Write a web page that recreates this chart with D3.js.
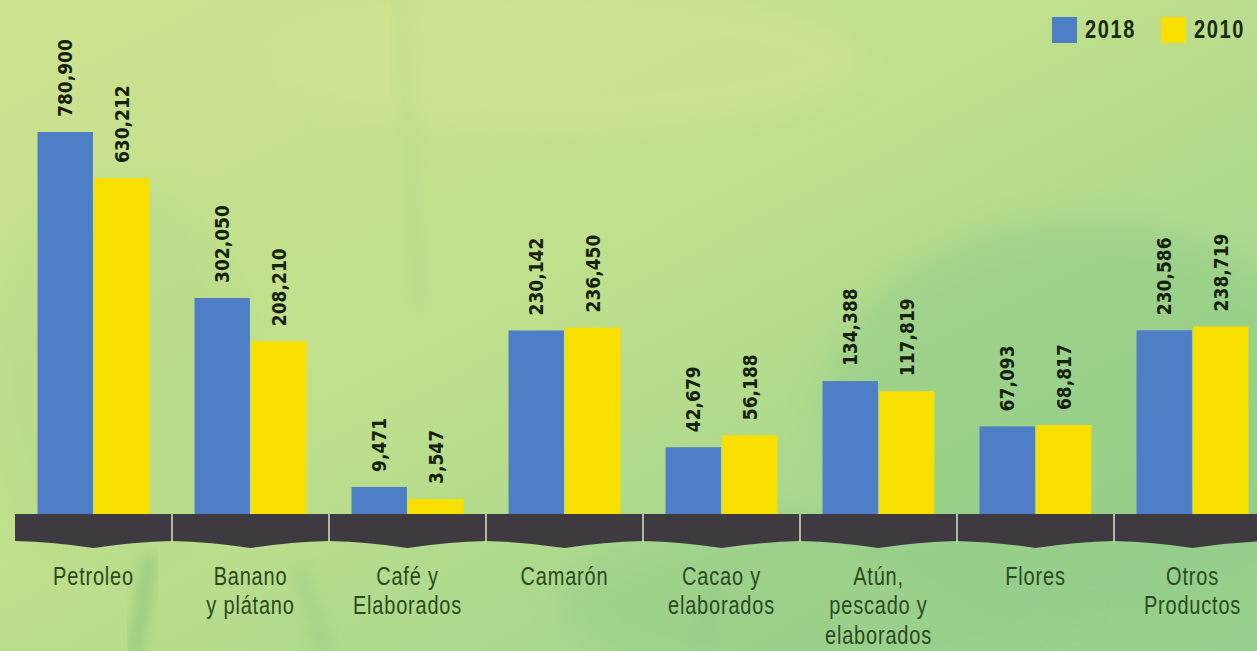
<!DOCTYPE html>
<html>
<head>
<meta charset="utf-8">
<script src="https://cdn.jsdelivr.net/npm/d3@7"></script>
<style>
  html, body { margin: 0; padding: 0; background: #b8dc8e; }
  svg { display: block; }
</style>
</head>
<body>
<svg id="chart" width="1257" height="651"></svg>
<script>
// Export products (values shown on each bar)
const categories = ["Petroleo", "Banano\ny plátano", "Café y\nElaborados", "Camarón",
                    "Cacao y\nelaborados", "Atún,\npescado y\nelaborados", "Flores", "Otros\nProductos"];
const series = ["2018", "2010"];
const values2018 = [780900, 302050, 9471, 230142, 42679, 134388, 67093, 230586];
const values2010 = [630212, 208210, 3547, 236450, 56188, 117819, 68817, 238719];
const seriesColors = ["#4d7ec6", "#f8df00"];

const W = 1257, H = 651;
const baseY = 514;
const svg = d3.select("#chart");
const defs = svg.append("defs");

// ---- background: soft green gradient with leafy streaks ----
const bg = defs.append("linearGradient").attr("id", "bg")
  .attr("x1", "0").attr("y1", "0").attr("x2", "1").attr("y2", "1");
bg.append("stop").attr("offset", "0").attr("stop-color", "#cde28f");
bg.append("stop").attr("offset", "0.45").attr("stop-color", "#bfdf8c");
bg.append("stop").attr("offset", "0.75").attr("stop-color", "#a5d78e");
bg.append("stop").attr("offset", "1").attr("stop-color", "#96cf8c");
svg.append("rect").attr("width", W).attr("height", H).attr("fill", "url(#bg)");

const blur = defs.append("filter").attr("id", "soft").attr("x", "-50%").attr("y", "-50%")
  .attr("width", "200%").attr("height", "200%");
blur.append("feGaussianBlur").attr("stdDeviation", 14);
const blurS = defs.append("filter").attr("id", "softS").attr("x", "-50%").attr("y", "-50%")
  .attr("width", "200%").attr("height", "200%");
blurS.append("feGaussianBlur").attr("stdDeviation", 7);

const haze = svg.append("g");
// broad greener area on the right and lower half
haze.append("ellipse").attr("cx", 1080).attr("cy", 420).attr("rx", 260).attr("ry", 200)
  .attr("fill", "#8fcb88").attr("opacity", 0.5).attr("filter", "url(#soft)");
haze.append("ellipse").attr("cx", 820).attr("cy", 600).attr("rx", 260).attr("ry", 90)
  .attr("fill", "#95cd8a").attr("opacity", 0.5).attr("filter", "url(#soft)");
haze.append("ellipse").attr("cx", 120).attr("cy", 380).attr("rx", 140).attr("ry", 200)
  .attr("fill", "#b4dc8a").attr("opacity", 0.5).attr("filter", "url(#soft)");
haze.append("ellipse").attr("cx", 560).attr("cy", 60).attr("rx", 300).attr("ry", 70)
  .attr("fill", "#d2e594").attr("opacity", 0.5).attr("filter", "url(#soft)");
// faint vertical leaf streaks
const streaks = [[150, 560, 135, 651, 7, "#6fae6a", 0.4], [400, 0, 420, 300, 10, "#b3d88c", 0.3],
                 [300, 570, 325, 651, 8, "#83bb78", 0.25], [720, 570, 700, 651, 6, "#8ec588", 0.3]];
streaks.forEach(s => {
  haze.append("line").attr("x1", s[0]).attr("y1", s[1]).attr("x2", s[2]).attr("y2", s[3])
    .attr("stroke", s[5]).attr("stroke-width", s[4] * 2).attr("opacity", s[6])
    .attr("stroke-linecap", "round").attr("filter", "url(#softS)");
});

// ---- scales ----
const x = d3.scaleBand().domain(categories).range([15, 15 + 157 * 8])
  .paddingInner(0.287).paddingOuter(0.1435);
const xs = d3.scaleBand().domain(series).range([0, x.bandwidth()]).paddingInner(0.02);
const y = d3.scalePow().exponent(0.6).domain([0, 780900]).range([baseY, 132]);

const rows = categories.map((c, i) => ({ cat: c, vals: [values2018[i], values2010[i]] }));

// ---- base band with tab-shaped bottom ----
const step = x.step();
const band = svg.append("g");
categories.forEach((c, i) => {
  const x0 = 15 + i * step, x1 = x0 + step, xm = (x0 + x1) / 2;
  const p = d3.path();
  p.moveTo(x0, baseY);
  p.lineTo(x1, baseY);
  p.lineTo(x1, 541);
  p.quadraticCurveTo(xm + step * 0.25, 542, xm, 548);
  p.quadraticCurveTo(xm - step * 0.25, 542, x0, 541);
  p.closePath();
  band.append("path").attr("d", p.toString()).attr("fill", "#3f3a40");
});
// thin light dividers between segments
d3.range(1, categories.length).forEach(i => {
  const xx = 15 + i * step;
  band.append("line").attr("x1", xx).attr("x2", xx).attr("y1", baseY).attr("y2", 542)
    .attr("stroke", "#d9e2cf").attr("stroke-width", 1.5);
});

// ---- bars ----
const groups = svg.append("g").selectAll("g").data(rows).join("g")
  .attr("transform", d => `translate(${x(d.cat)},0)`);

groups.selectAll("rect").data(d => d.vals.map((v, j) => ({ key: series[j], v, j })))
  .join("rect")
  .attr("x", d => xs(d.key))
  .attr("width", xs.bandwidth())
  .attr("y", d => y(d.v))
  .attr("height", d => baseY - y(d.v))
  .attr("fill", d => seriesColors[d.j]);

// ---- value labels (vertical) ----
const fmt = d3.format(",");
groups.selectAll("text.val").data(d => d.vals.map((v, j) => ({ key: series[j], v, j })))
  .join("text")
  .attr("class", "val")
  .attr("transform", d => `translate(${xs(d.key) + xs.bandwidth() / 2},${y(d.v) - 15}) rotate(-90)`)
  .attr("dy", "0.36em")
  .attr("text-anchor", "start")
  .attr("font-family", "'DejaVu Sans Condensed', 'DejaVu Sans', sans-serif")
  .attr("font-weight", "bold")
  .attr("font-size", 19)
  .attr("fill", "#15210f")
  .text(d => fmt(d.v));

// ---- category labels (narrow type: Liberation Sans squeezed horizontally) ----
const catFont = "'Liberation Sans', Arial, sans-serif";
const squeeze = 0.8;
const catG = svg.append("g").selectAll("g").data(categories).join("g")
  .attr("transform", d => `translate(${x(d) + x.bandwidth() / 2},585) scale(${squeeze},1)`);
catG.append("text")
  .attr("text-anchor", "middle")
  .attr("font-family", catFont)
  .attr("font-size", 25)
  .attr("letter-spacing", 1)
  .attr("fill", "#2c4a20")
  .each(function (d) {
    const t = d3.select(this);
    d.split("\n").forEach((line, k) => {
      t.append("tspan").attr("x", 0).attr("y", k * 29.5).text(line);
    });
  });

// ---- legend ----
const legend = svg.append("g");
const legendX = [1052, 1161];
series.forEach((s, j) => {
  legend.append("rect").attr("x", legendX[j]).attr("y", 17).attr("width", 25).attr("height", 26)
    .attr("fill", seriesColors[j]);
  legend.append("text")
    .attr("transform", `translate(${legendX[j] + 33},38) scale(${squeeze},1)`)
    .attr("font-family", catFont).attr("font-weight", "bold").attr("font-size", 25)
    .attr("letter-spacing", 2).attr("fill", "#1b2a14").text(s);
});
</script>
</body>
</html>
